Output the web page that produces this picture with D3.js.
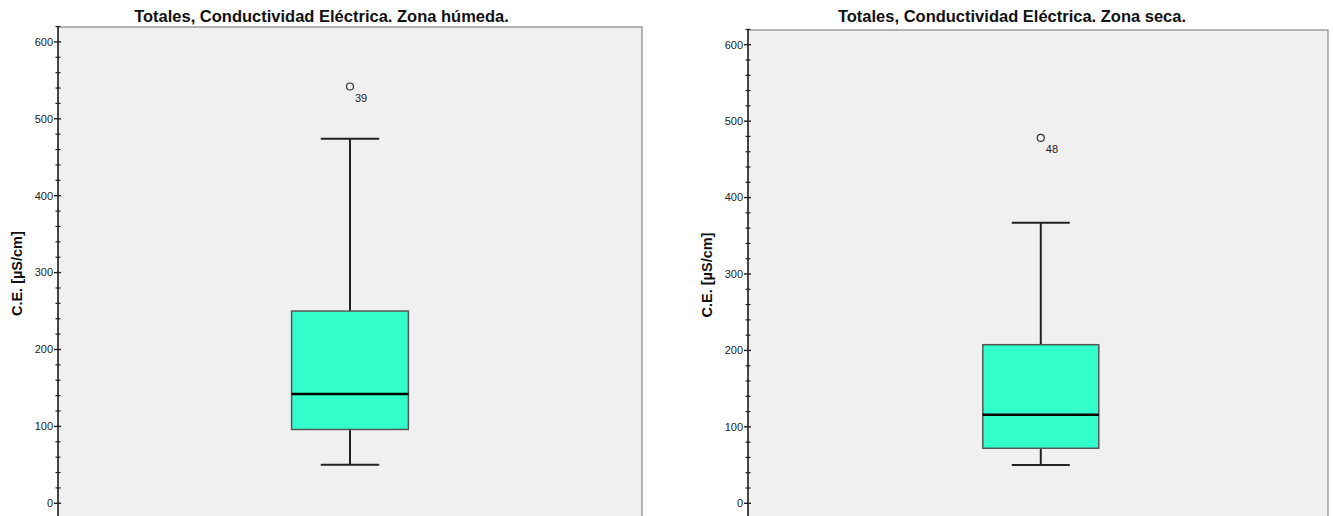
<!DOCTYPE html>
<html><head><meta charset="utf-8">
<script src="https://cdn.jsdelivr.net/npm/d3@7"></script>
<style>body{margin:0;background:#fff;} svg{display:block;font-family:Arial,"Liberation Sans",sans-serif;}</style>
</head><body>
<svg id="c" width="1333" height="516"></svg>
<script>
// Data
const panelTitles = ["Totales, Conductividad Eléctrica. Zona húmeda.", "Totales, Conductividad Eléctrica. Zona seca."];
const whiskerLow = [50, 50];
const q1 = [96, 72];
const median = [142, 116];
const q3 = [250, 207.5];
const whiskerHigh = [474, 367];
const outlierValue = [542, 478];
const outlierCase = ["39", "48"];
const yTicks = [0, 100, 200, 300, 400, 500, 600];
const yLabel = "C.E. [µS/cm]";

const svg = d3.select("#c");
const layout = [
  {left: 58, right: 642, top: 27, y0: 503.3, y600: 41.9, titleX: 321.5, labelX: 17, align: 0.5},
  {left: 748, right: 1328, top: 30, y0: 503.3, y600: 44.7, titleX: 1012, labelX: 707, align: 0.506}
];

layout.forEach((L, i) => {
  const g = svg.append("g");
  const y = d3.scaleLinear().domain([0, 600]).range([L.y0, L.y600]);
  const x = d3.scaleBand().domain(["a"]).range([L.left, L.right]).paddingInner(0).paddingOuter(2).align(L.align);
  // plot area
  g.append("rect").attr("x", L.left).attr("y", L.top).attr("width", L.right - L.left).attr("height", 540 - L.top)
    .attr("fill", "#f0f0f0").attr("stroke", "#888").attr("stroke-width", 1.2);
  // title
  g.append("text").attr("x", L.titleX).attr("y", 22).attr("text-anchor", "middle")
    .attr("font-size", 16.5).attr("font-weight", "bold").attr("fill", "#111").text(panelTitles[i]);
  // y label
  g.append("text").attr("transform", `translate(${L.labelX},${(y(400)+y(200))/2 + 1}) rotate(-90)`)
    .attr("text-anchor", "middle").attr("dy", "0.35em").attr("font-size", 14.5).attr("font-weight", "bold").attr("fill", "#111").text(yLabel);
  // axis
  const ax = g.append("g").attr("transform", `translate(${L.left},0)`);
  ax.append("line").attr("x1", 0).attr("x2", 0).attr("y1", L.top).attr("y2", 540).attr("stroke", "#222").attr("stroke-width", 1.5);
  const minor = d3.range(-20, 621, 20).filter(v => v % 100 !== 0);
  ax.selectAll(".mn").data(minor).join("line").attr("x1", -2.5).attr("x2", 2.5)
    .attr("y1", d => y(d)).attr("y2", d => y(d)).attr("stroke", "#222").attr("stroke-width", 1.2);
  ax.selectAll(".mj").data(yTicks).join("line").attr("x1", -4).attr("x2", 3)
    .attr("y1", d => y(d)).attr("y2", d => y(d)).attr("stroke", "#222").attr("stroke-width", 1.4);
  ax.selectAll(".tl").data(yTicks).join("text").attr("x", -5).attr("y", d => y(d)).attr("dy", "0.35em")
    .attr("text-anchor", "end").attr("font-size", 11).attr("fill", "#222").text(d => d);
  // box
  const bw = x.bandwidth(), bx = x("a"), cx = bx + bw / 2, cw = bw / 2;
  g.append("line").attr("x1", cx).attr("x2", cx).attr("y1", y(whiskerHigh[i])).attr("y2", y(q3[i])).attr("stroke", "#222").attr("stroke-width", 2);
  g.append("line").attr("x1", cx).attr("x2", cx).attr("y1", y(q1[i])).attr("y2", y(whiskerLow[i])).attr("stroke", "#222").attr("stroke-width", 2);
  [whiskerHigh[i], whiskerLow[i]].forEach(v => g.append("line").attr("x1", cx - cw / 2).attr("x2", cx + cw / 2)
    .attr("y1", y(v)).attr("y2", y(v)).attr("stroke", "#222").attr("stroke-width", 2));
  g.append("rect").attr("x", bx).attr("y", y(q3[i])).attr("width", bw).attr("height", y(q1[i]) - y(q3[i]))
    .attr("fill", "#33ffcc").attr("stroke", "#555").attr("stroke-width", 1.5);
  g.append("line").attr("x1", bx).attr("x2", bx + bw).attr("y1", y(median[i])).attr("y2", y(median[i])).attr("stroke", "#000").attr("stroke-width", 2.5);
  // outlier
  g.append("circle").attr("cx", cx).attr("cy", y(outlierValue[i])).attr("r", 3.5).attr("fill", "none").attr("stroke", "#333").attr("stroke-width", 1.2);
  g.append("text").attr("x", cx + 5).attr("y", y(outlierValue[i]) + 15).attr("font-size", 11).attr("fill", "#222").text(outlierCase[i]);
});
</script>
</body></html>
